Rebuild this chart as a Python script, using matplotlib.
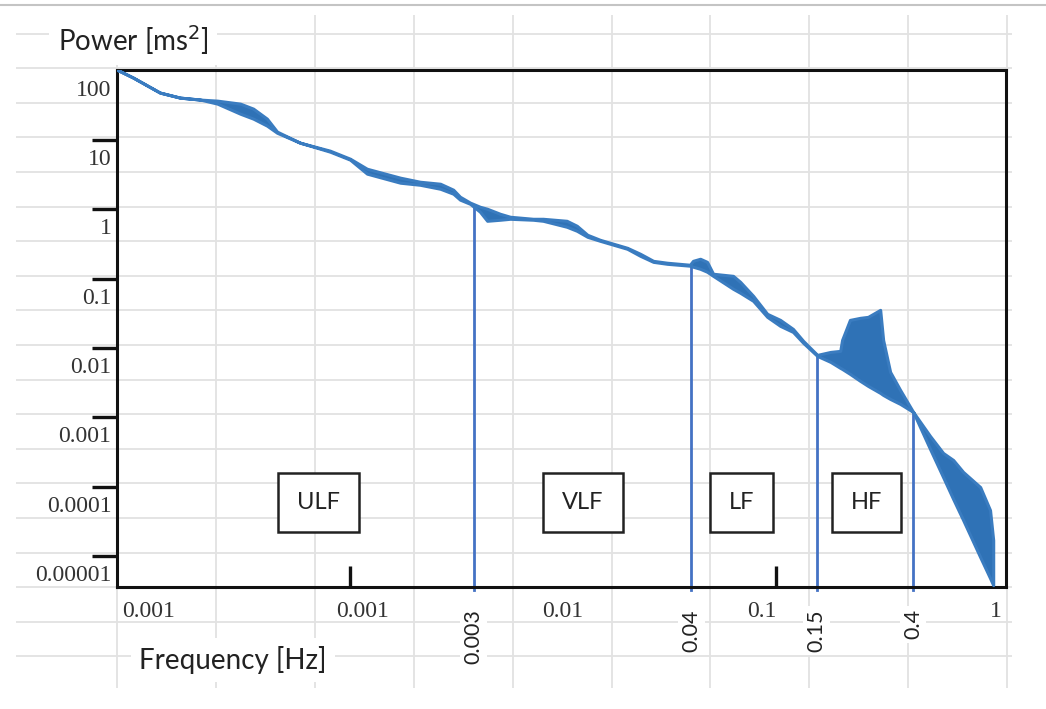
import numpy as np
import matplotlib.pyplot as plt
from matplotlib.ticker import NullFormatter

# power spectrum band (upper / lower envelope)
freq = [8.05e-5, 9.58e-5, 1.28e-4, 1.59e-4, 1.98e-4, 2.38e-4, 3.05e-4, 3.51e-4, 4.07e-4, 4.54e-4,
        5.82e-4, 8.05e-4, 1.0e-3, 1.20e-3, 1.72e-3, 2.13e-3, 2.65e-3, 3.05e-3, 3.28e-3, 3.66e-3,
        4.07e-3, 4.40e-3, 5.06e-3, 5.64e-3, 7.23e-3, 8.05e-3, 1.04e-2, 1.16e-2, 1.30e-2, 1.49e-2,
        2.00e-2, 2.30e-2, 2.65e-2, 3.08e-2, 3.94e-2, 4.07e-2, 4.40e-2, 4.74e-2, 5.06e-2, 6.28e-2,
        6.78e-2, 7.80e-2, 9.08e-2, 0.1045, 0.120, 0.134, 0.156, 0.180, 0.200, 0.204,
        0.222, 0.248, 0.270, 0.308, 0.318, 0.343, 0.382, 0.440, 0.528, 0.608,
        0.678, 0.755, 0.908, 1.01, 1.045]
power_hi = [103, 79.3, 48.2, 40.8, 38.2, 36.9, 33.4, 28.3, 20.3, 13.2,
            9.14, 7.01, 5.37, 3.85, 2.86, 2.50, 2.34, 1.92, 1.52, 1.25,
            1.09, 1.02, 0.863, 0.782, 0.731, 0.731, 0.684, 0.580, 0.430, 0.364,
            0.279, 0.229, 0.181, 0.170, 0.159, 0.181, 0.194, 0.175, 0.118, 0.110,
            0.0902, 0.0567, 0.0312, 0.0255, 0.0189, 0.0127, 0.00798, 0.00881, 0.00912, 0.0131,
            0.0255, 0.0273, 0.0282, 0.0356, 0.0131, 0.00454, 0.00250, 0.00120, 5.41e-4, 3.08e-4,
            2.44e-4, 1.64e-4, 9.93e-5, 4.62e-5, 1.71e-5]
power_lo = [103, 79.3, 48.2, 40.8, 38.2, 33.4, 23.9, 20.3, 16.1, 12.7,
            9.14, 6.78, 5.20, 3.27, 2.42, 2.26, 1.98, 1.68, 1.38, 1.20,
            0.924, 0.684, 0.708, 0.731, 0.708, 0.684, 0.561, 0.491, 0.402, 0.352,
            0.270, 0.214, 0.175, 0.164, 0.154, 0.149, 0.139, 0.126, 0.110, 0.0715,
            0.0627, 0.0480, 0.0282, 0.0209, 0.0171, 0.0119, 0.00771, 0.00632, 0.00518, 0.00501,
            0.00425, 0.00337, 0.00285, 0.00226, 0.00211, 0.00185, 0.00157, 0.00120, 3.51e-4, 1.38e-4,
            6.67e-5, 3.32e-5, 9.70e-6, 4.83e-6, 3.83e-6]

# band limits (where they are drawn) and their labels
band_edges = [0.0038, 0.04, 0.155, 0.44]
band_edge_labels = ['0.003', '0.04', '0.15', '0.4']
band_names = ['ULF', 'VLF', 'LF', 'HF']
band_name_x = [7.08e-4, 0.0124, 0.0686, 0.265]

y_decades = [10, 1, 0.1, 0.01, 0.001, 1e-4, 1e-5]
y_labels = ['100', '10', '1', '0.1', '0.01', '0.001', '0.0001', '0.00001']
x_decades = [1e-3, 1e-2, 1e-1]
x_labels = ['0.001', '0.001', '0.01', '0.1', '1']

W, H = 1046, 709
fig = plt.figure(figsize=(W / 100, H / 100), dpi=100)

# spreadsheet grid behind the chart
bg = fig.add_axes([0, 0, 1, 1], zorder=0)
bg.set_xlim(0, W)
bg.set_ylim(H, 0)
bg.axis('off')
bg.hlines(33.5 + 34.6 * np.arange(19), 16, 1012, color='#e2e2e2', lw=1.3)
bg.vlines(117 + 98.9 * np.arange(10), 15, 688, color='#e2e2e2', lw=1.3)
bg.hlines(5, 0, W, color='#c4c4c4', lw=1.5)

ax = fig.add_axes([117 / W, 1 - 587 / H, 889 / W, 517 / H], zorder=2)
ax.patch.set_alpha(0)
ax.set_xscale('log')
ax.set_yscale('log')
ax.set_xlim(8.05e-5, 1.2)
ax.set_ylim(3.6e-6, 102)

ax.fill_between(freq, power_lo, power_hi, facecolor='#2f72b6', edgecolor='#3a7cc0', lw=2.2, zorder=3)

# band boundaries
lo_log = np.log10(power_lo)
for e, lab in zip(band_edges, band_edge_labels):
    top = 10 ** np.interp(np.log10(e), np.log10(freq), lo_log)
    ax.plot([e, e], [3.3e-6, top], color='#4472c4', lw=2.0, clip_on=False, zorder=2)
    ax.text(e, -0.043, lab, transform=ax.get_xaxis_transform(),
            rotation=90, ha='center', va='top', fontsize=15.5, family='Lato', color='#222',
            bbox=dict(boxstyle='square,pad=0.15', fc='white', ec='none'))

for name, xc in zip(band_names, band_name_x):
    ax.text(xc, 6.0e-5, name, ha='center', va='center', fontsize=17, family='Lato', color='#222',
            bbox=dict(boxstyle='square,pad=0.8', fc='white', ec='#222', lw=1.8), zorder=4)

for s in ax.spines.values():
    s.set_linewidth(2.2)
    s.set_color('#111')

# y axis: marks at decades, labels sit just below each mark
ax.set_yticks(y_decades, minor=True)
ax.set_yticks([v * 0.57 for v in [100] + y_decades], y_labels)
ax.yaxis.set_minor_formatter(NullFormatter())
ax.tick_params(axis='y', which='minor', direction='out', length=18, width=2.4, color='#111')
ax.tick_params(axis='y', which='major', length=0, pad=4)

# x axis: inward marks at decades
ax.set_xticks(x_decades, minor=True)
ax.set_xticks([1.13e-4, 1.14e-3, 1e-2, 0.086, 1.07], x_labels)
ax.xaxis.set_minor_formatter(NullFormatter())
ax.tick_params(axis='x', which='minor', direction='in', length=15, width=2.4, color='#111')
ax.tick_params(axis='x', which='major', length=0, pad=10)
for lab in ax.get_xticklabels() + ax.get_yticklabels():
    lab.set_family('Liberation Serif')
    lab.set_fontsize(17)
    lab.set_color('#333')

fig.text(133 / W, 1 - 40 / H, 'Power [ms$^2$]', fontsize=20, family='Lato', color='#222',
         ha='center', va='center', bbox=dict(boxstyle='square,pad=0.3', fc='white', ec='none'))
fig.text(233 / W, 1 - 660 / H, 'Frequency [Hz]', fontsize=20, family='Lato', color='#222',
         ha='center', va='center', bbox=dict(boxstyle='square,pad=0.3', fc='white', ec='none'))

fig.savefig('out.png', dpi=100)
